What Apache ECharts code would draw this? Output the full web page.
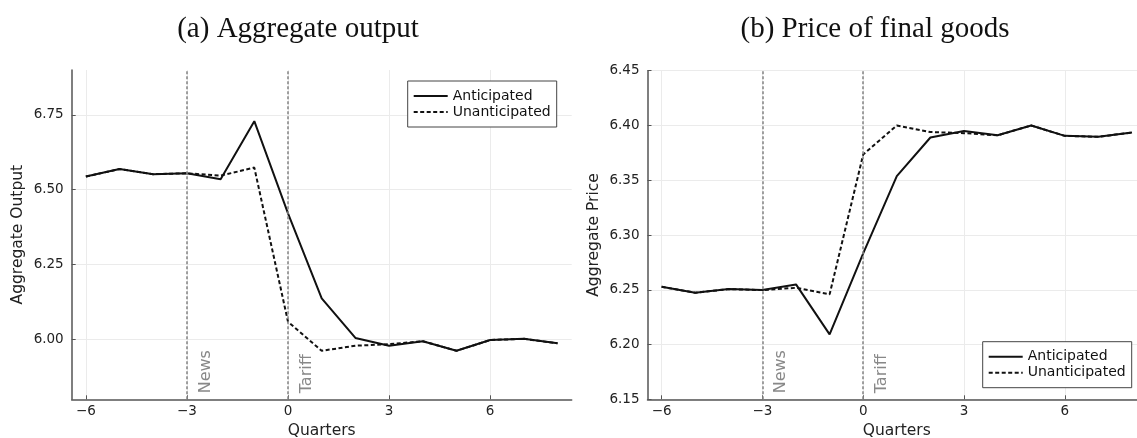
<!DOCTYPE html>
<html>
<head>
<meta charset="utf-8">
<script src="https://cdn.jsdelivr.net/npm/echarts@6/dist/echarts.min.js"></script>
<style>
html,body{margin:0;padding:0;background:#fff;}
#c{width:1137px;height:438px;}
</style>
</head>
<body>
<div id="c"></div>
<script>
// ---- data ----
const quarters = [-6,-5,-4,-3,-2,-1,0,1,2,3,4,5,6,7,8];
const outputAnticipated   = [6.544,6.569,6.552,6.555,6.535,6.729,6.421,6.137,6.005,5.979,5.994,5.962,5.998,6.002,5.987];
const outputUnanticipated = [6.544,6.569,6.552,6.555,6.547,6.574,6.059,5.962,5.979,5.984,5.994,5.962,5.998,6.002,5.987];
const priceAnticipated    = [6.2527,6.2473,6.2506,6.2497,6.2549,6.2093,6.2832,6.3537,6.389,6.395,6.391,6.400,6.3905,6.3896,6.3936];
const priceUnanticipated  = [6.2527,6.2473,6.2506,6.2497,6.2518,6.2458,6.3735,6.400,6.394,6.393,6.391,6.400,6.3905,6.3896,6.3936];
const xTicks = [-6,-3,0,3,6];
const outputTicks = [6.00,6.25,6.50,6.75];
const priceTicks = [6.15,6.20,6.25,6.30,6.35,6.40,6.45];
const events = [{x:-3,label:'News'},{x:0,label:'Tariff'}];
const titles = ['(a) Aggregate output','(b) Price of final goods'];
const seriesNames = ['Anticipated','Unanticipated'];

const pairs = ys => quarters.map((q,i)=>[q,ys[i]]);
const FONT = 'DejaVu Sans';

function xAxisCfg(gi){
  return {
    type:'value', gridIndex:gi, min:-6.42, max:8.42,
    name:'Quarters', nameLocation:'middle', nameGap:21,
    nameTextStyle:{fontFamily:FONT,fontSize:15.5,color:'#222'},
    axisLine:{show:true,onZero:false,lineStyle:{color:'#555',width:1.5}},
    axisTick:{show:true,inside:true,length:4,customValues:xTicks,lineStyle:{color:'#555'}},
    axisLabel:{customValues:xTicks,margin:5,fontFamily:FONT,fontSize:13.5,color:'#222',
      formatter:v=> (v<0?'\u2212'+Math.abs(v):String(v))},
    splitLine:{show:true,lineStyle:{color:'#ebebeb',width:1}}
  };
}
function yAxisCfg(gi,name,min,max,ticks){
  return {
    type:'value', gridIndex:gi, min:min, max:max,
    name:name, nameLocation:'middle', nameGap:46,
    nameTextStyle:{fontFamily:FONT,fontSize:15.5,color:'#222'},
    axisLine:{show:true,onZero:false,lineStyle:{color:'#555',width:1.5}},
    axisTick:{show:true,inside:true,length:4,customValues:ticks,lineStyle:{color:'#555'}},
    axisLabel:{customValues:ticks,margin:8,fontFamily:FONT,fontSize:13.5,color:'#222',
      formatter:v=>v.toFixed(2)},
    splitLine:{show:true,lineStyle:{color:'#ebebeb',width:1}}
  };
}
function lineSeries(name,gi,ys,dashed,withMarks){
  const s = {
    name:name, type:'line', xAxisIndex:gi, yAxisIndex:gi,
    data:pairs(ys), symbol:'none', showSymbol:false, animation:false,
    lineStyle:{color:'#111',width:2,type:dashed?[4,2.5]:'solid'},
    itemStyle:{color:'#111'},
    z: dashed?4:3
  };
  if(withMarks){
    s.markLine = {
      silent:true, symbol:'none', animation:false,
      label:{show:false},
      lineStyle:{color:'#8a8a8a',width:1.6,type:[3,2]},
      data: events.map(e=>({xAxis:e.x}))
    };
  }
  return s;
}
function legendCfg(left,top){
  return {
    left:left, top:top, orient:'vertical',
    data:seriesNames, itemWidth:34, itemHeight:14, itemGap:2,
    padding:[8,6,8,5], backgroundColor:'#fff',
    borderColor:'#444', borderWidth:1, borderRadius:0,
    itemStyle:{color:'transparent',borderColor:'transparent',borderWidth:0,opacity:0},
    lineStyle:{width:2},
    textStyle:{fontFamily:FONT,fontSize:14,color:'#111'},
    selectedMode:false
  };
}

const chart = echarts.init(document.getElementById('c'),null,{renderer:'canvas'});
chart.setOption({
  animation:false,
  backgroundColor:'#fff',
  title:[
    {text:titles[0],left:293,top:10,textAlign:'center',
     textStyle:{fontFamily:'Liberation Serif',fontSize:29,fontWeight:'normal',color:'#111'}},
    {text:titles[1],left:870,top:10,textAlign:'center',
     textStyle:{fontFamily:'Liberation Serif',fontSize:29,fontWeight:'normal',color:'#111'}}
  ],
  grid:[
    {left:71.7,top:70,width:500,height:329.3,containLabel:false,outerBoundsMode:'none'},
    {left:647.5,top:70.7,width:498.6,height:328.6,containLabel:false,outerBoundsMode:'none'}
  ],
  legend:[legendCfg(407.7,81),legendCfg(982.7,341.7)],
  xAxis:[xAxisCfg(0),xAxisCfg(1)],
  yAxis:[
    yAxisCfg(0,'Aggregate Output',5.80,6.90,outputTicks),
    yAxisCfg(1,'Aggregate Price',6.15,6.45,priceTicks)
  ],
  series:[
    lineSeries(seriesNames[0],0,outputAnticipated,false,true),
    lineSeries(seriesNames[1],0,outputUnanticipated,true,false),
    lineSeries(seriesNames[0],1,priceAnticipated,false,true),
    lineSeries(seriesNames[1],1,priceUnanticipated,true,false)
  ]
});

// event labels positioned through the axes
const yMins = [5.80,6.15];
const gfx = [];
[0,1].forEach(gi=>{
  events.forEach(e=>{
    const p = chart.convertToPixel({xAxisIndex:gi,yAxisIndex:gi},[e.x,yMins[gi]]);
    gfx.push({
      type:'text', x:p[0]+18.5, y:p[1]-6, rotation:Math.PI/2, silent:true, z:10,
      style:{text:e.label,fill:'#888',font:'16px "DejaVu Sans"',align:'left',verticalAlign:'middle'}
    });
  });
});
chart.setOption({graphic:gfx});
</script>
</body>
</html>
